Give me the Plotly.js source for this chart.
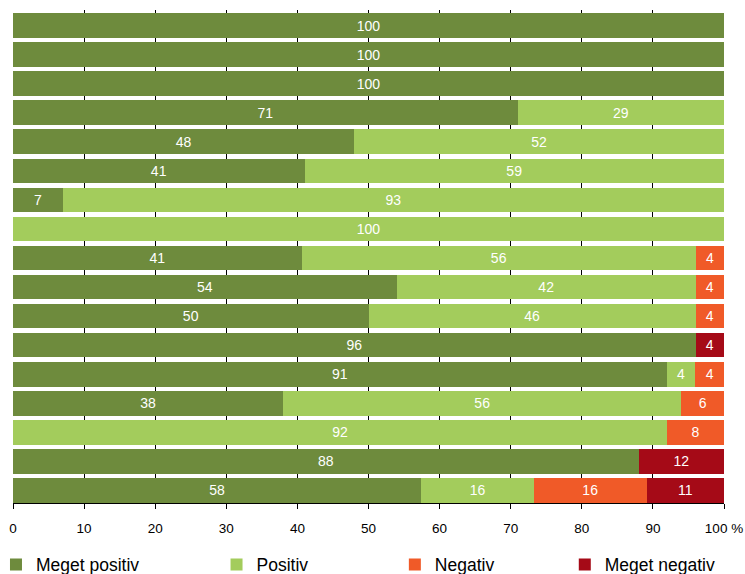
<!DOCTYPE html>
<html>
<head>
<meta charset="utf-8">
<script src="https://cdn.plot.ly/plotly-3.0.1.min.js"></script>
<style>
html,body{margin:0;padding:0;background:#fff;}
#chart{width:745px;height:574px;}
</style>
</head>
<body>
<div id="chart"></div>
<script>
// Rows from top to bottom
var rows = [0,1,2,3,4,5,6,7,8,9,10,11,12,13,14,15,16];
var megetPositiv = [100,100,100,71,48,41,7,0,41,54,50,96,91,38,0,88,58];
var positiv      = [0,0,0,29,52,59,93,100,56,42,46,0,4,56,92,0,16];
var negativ      = [0,0,0,0,0,0,0,0,4,4,4,0,4,6,8,0,16];
var megetNegativ = [0,0,0,0,0,0,0,0,0,0,0,4,0,0,0,12,11];
var seriesNames  = ['Meget positiv','Positiv','Negativ','Meget negativ'];
var tickValues   = [0,10,20,30,40,50,60,70,80,90,100];
var tickLabels   = ['0','10','20','30','40','50','60','70','80','90','100 %'];

var colors = ['#6E8B3D','#A3CC5C','#F05A28','#A50A17'];
var seriesData = [megetPositiv, positiv, negativ, megetNegativ];
var legendIds = ['legend','legend2','legend3','legend4'];
var FONT = 'Liberation Sans, Arial, sans-serif';

var traces = seriesData.map(function(vals, i){
  return {
    type:'bar', orientation:'h',
    x: vals, y: rows,
    name: seriesNames[i],
    legend: legendIds[i],
    marker:{color:colors[i], line:{width:0}},
    text: vals.map(function(v){return v ? String(v) : '';}),
    texttemplate:'%{text}',
    textposition:'inside',
    insidetextanchor:'middle',
    textangle:0,
    constraintext:'none',
    insidetextfont:{family:FONT, size:14, color:'#ffffff'},
    hoverinfo:'skip'
  };
});

function leg(x){
  return {orientation:'h', x:x, y:-0.125, xanchor:'left', yanchor:'middle',
    font:{family:FONT, size:17.5, color:'#000'}, bgcolor:'rgba(0,0,0,0)',
    borderwidth:0, itemwidth:30, itemclick:false, itemdoubleclick:false};
}
var dx = -6/711.3;

var layout = {
  width:745, height:574,
  margin:{l:13, r:21, t:10, b:71, pad:0, autoexpand:false},
  paper_bgcolor:'#fff', plot_bgcolor:'#fff',
  barmode:'stack', barnorm:'percent', bargap:0.15,
  font:{family:FONT, color:'#000'},
  xaxis:{
    range:[0,100], tickmode:'array', tickvals:tickValues, ticktext:tickLabels,
    showgrid:true, gridcolor:'#000', gridwidth:1,
    zeroline:false, showline:true, linecolor:'#000', linewidth:1,
    ticks:'outside', ticklen:5, tickcolor:'#000', tickwidth:1,
    ticklabelstandoff:8,
    tickfont:{family:FONT, size:13.5, color:'#000'}, fixedrange:true, automargin:false
  },
  yaxis:{
    range:[16.436,-0.539], showticklabels:false, showgrid:false,
    zeroline:false, showline:false, ticks:'', fixedrange:true, automargin:false
  },
  legend: leg(-0.0155+dx),
  legend2: leg(0.2947+dx),
  legend3: leg(0.5455+dx),
  legend4: leg(0.7845+dx),
  showlegend:true
};

Plotly.newPlot('chart', traces, layout, {displayModeBar:false, staticPlot:true});
</script>
</body>
</html>
